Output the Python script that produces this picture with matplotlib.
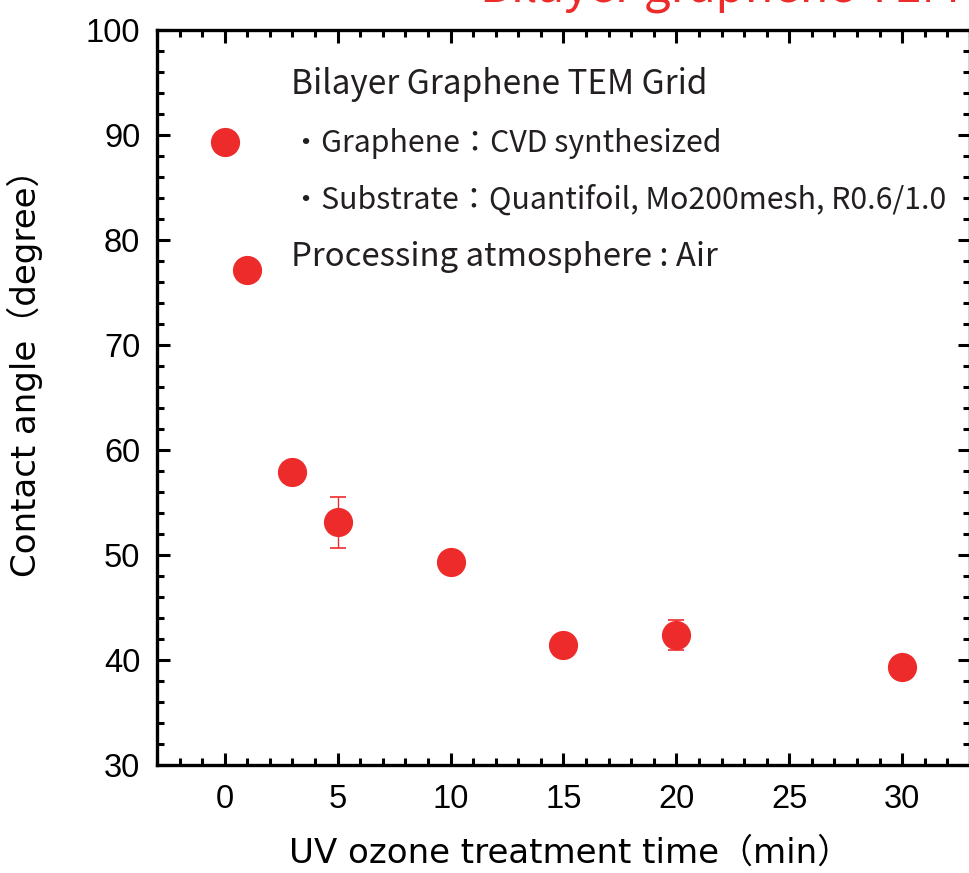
import matplotlib
matplotlib.use("Agg")
import matplotlib.pyplot as plt
from matplotlib.ticker import MultipleLocator

# UV ozone treatment time (min) vs contact angle (degree)
time_min = [0, 1, 3, 5, 10, 15, 20, 30]
angle = [89.3, 77.1, 57.9, 53.1, 49.3, 41.4, 42.4, 39.3]
angle_err = [0, 0, 0, 2.4, 0, 0, 1.4, 0]

notes = [
    "Bilayer Graphene TEM Grid",
    "・Graphene：CVD synthesized",
    "・Substrate：Quantifoil, Mo200mesh, R0.6/1.0",
    "Processing atmosphere : Air",
]

red = "#ee2b2b"
jp = ["Noto Sans CJK JP", "DejaVu Sans"]
lab_font = ["DejaVu Sans", "Noto Sans CJK JP"]

fig = plt.figure(figsize=(9.69, 8.73), dpi=100)
ax = fig.add_axes([0.162, 0.1237, 0.839, 0.8419])

ax.errorbar(time_min, angle, yerr=angle_err, fmt="o", color=red, ms=20,
            mec=red, ecolor=red, elinewidth=1, capsize=5.5, capthick=1.2, zorder=3)

ax.set_xlim(-3, 33)
ax.set_ylim(30, 100)
ax.xaxis.set_major_locator(MultipleLocator(5))
ax.xaxis.set_minor_locator(MultipleLocator(1))
ax.yaxis.set_major_locator(MultipleLocator(10))
ax.yaxis.set_minor_locator(MultipleLocator(2))
ax.tick_params(which="both", direction="in", top=True, right=True, width=2.2)
ax.tick_params(which="major", length=9, labelsize=23.5)
ax.tick_params(axis="y", which="major", pad=12)
ax.tick_params(axis="x", which="major", pad=14)
ax.tick_params(which="minor", length=5)
for lab in ax.get_xticklabels() + ax.get_yticklabels():
    lab.set_fontfamily("Liberation Sans")
for s in ax.spines.values():
    s.set_linewidth(2.4)

ax.set_xlabel("UV ozone treatment time（min）", fontsize=24.5, family=lab_font)
ax.set_ylabel("Contact angle（degree）", fontsize=24.5, family=lab_font)
ax.xaxis.set_label_coords(0.508, -0.097)
ax.yaxis.set_label_coords(-0.14, 0.545)

ys = [0.926, 0.845, 0.769, 0.691]
sizes = [24, 21.8, 21.8, 23.7]
for t, yy, fs in zip(notes, ys, sizes):
    ax.text(0.165, yy, t, transform=ax.transAxes, fontsize=fs, family=jp,
            color="#231f20", va="center", ha="left")

fig.text(0.495, 1 - 3 / 873, "Bilayer graphene TEM grid", color=red, fontsize=34,
         family=jp, va="baseline", ha="left")

fig.savefig("out.png", dpi=100)
